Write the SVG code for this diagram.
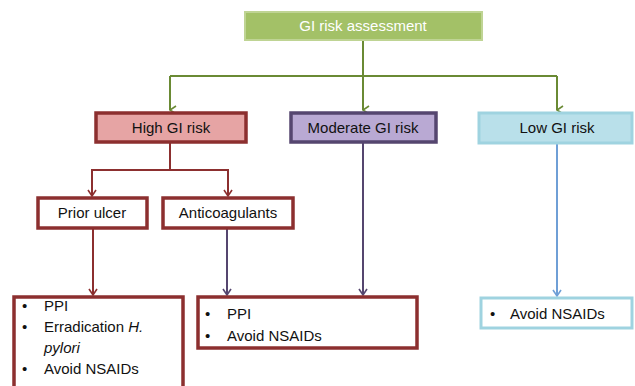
<svg xmlns="http://www.w3.org/2000/svg" width="635" height="386" viewBox="0 0 635 386">
<defs>
<marker id="ag" markerWidth="10" markerHeight="10" refX="5" refY="9" orient="auto-start-reverse" markerUnits="userSpaceOnUse" viewBox="0 0 10 10"><path d="M1,3 L5,9 L9,3" fill="none" stroke="#6a8a34" stroke-width="1.6"/></marker>
<marker id="ar" markerWidth="10" markerHeight="10" refX="5" refY="9" markerUnits="userSpaceOnUse" viewBox="0 0 10 10"><path d="M1,3 L5,9 L9,3" fill="none" stroke="#8c2f2f" stroke-width="1.6"/></marker>
<marker id="ap" markerWidth="10" markerHeight="10" refX="5" refY="9" markerUnits="userSpaceOnUse" viewBox="0 0 10 10"><path d="M1,3 L5,9 L9,3" fill="none" stroke="#55466f" stroke-width="1.6"/></marker>
<marker id="ab" markerWidth="10" markerHeight="10" refX="5" refY="9" markerUnits="userSpaceOnUse" viewBox="0 0 10 10"><path d="M1,3 L5,9 L9,3" fill="none" stroke="#6f9fd6" stroke-width="1.6"/></marker>
</defs>
<style>
text{font-family:"Liberation Sans",Arial,sans-serif;font-size:15px;fill:#111}
.c{text-anchor:middle}
.red{fill:#fff;stroke:#8c2f2f;stroke-width:3.5}
.cg{fill:none;stroke:#6a8a34;stroke-width:2}
.cr{fill:none;stroke:#8c2f2f;stroke-width:2}
.cp{fill:none;stroke:#55466f;stroke-width:2}
.cb{fill:none;stroke:#6f9fd6;stroke-width:2}
</style>
<rect width="635" height="386" fill="#fff"/>
<g id="connectors">
<path class="cg" d="M363,40 V110"/>
<path class="cg" d="M170,76 H557"/>
<path class="cg" d="M170,76 V110" marker-end="url(#ag)"/>
<path class="cg" d="M363,76 V110" marker-end="url(#ag)"/>
<path class="cg" d="M557,76 V110" marker-end="url(#ag)"/>
<path class="cr" d="M170,142 V170 H92 V196" marker-end="url(#ar)"/>
<path class="cr" d="M170,170 H228 V196" marker-end="url(#ar)"/>
<path class="cr" d="M93,228 V295" marker-end="url(#ar)"/>
<path class="cp" d="M227,228 V295" marker-end="url(#ap)"/>
<path class="cp" d="M363,142 V295" marker-end="url(#ap)"/>
<path class="cb" d="M557,143 V296" marker-end="url(#ab)"/>
</g>
<g id="gi-risk-assessment">
<rect x="245" y="12" width="237" height="28" fill="#a3c167" stroke="#bfd494" stroke-width="2"/>
<text class="c" x="363" y="31" style="fill:#fff">GI risk assessment</text>
</g>
<g id="high-gi-risk">
<rect x="96" y="113" width="150" height="29" fill="#e6a4a4" stroke="#8c2f2f" stroke-width="3.5"/>
<text class="c" x="171" y="133">High GI risk</text>
</g>
<g id="moderate-gi-risk">
<rect x="291" y="113" width="145" height="29" fill="#b9a9d3" stroke="#55466f" stroke-width="3.5"/>
<text class="c" x="363" y="133">Moderate GI risk</text>
</g>
<g id="low-gi-risk">
<rect x="479" y="113" width="153" height="30" fill="#b9e0ea" stroke="#9fd3e0" stroke-width="3"/>
<text class="c" x="557" y="133">Low GI risk</text>
</g>
<g id="prior-ulcer">
<rect class="red" x="38" y="198" width="109" height="30"/>
<text class="c" x="92" y="218">Prior ulcer</text>
</g>
<g id="anticoagulants">
<rect class="red" x="163" y="198" width="130" height="30"/>
<text class="c" x="228" y="218">Anticoagulants</text>
</g>
<g id="high-actions">
<rect class="red" x="14" y="297" width="169" height="100"/>
<text x="22" y="311">•</text><text x="44" y="311">PPI</text>
<text x="22" y="332">•</text><text x="44" y="332">Erradication <tspan font-style="italic">H.</tspan></text>
<text x="44" y="353" font-style="italic">pylori</text>
<text x="22" y="374">•</text><text x="44" y="374">Avoid NSAIDs</text>
</g>
<g id="moderate-actions">
<rect class="red" x="198" y="297" width="219" height="51"/>
<text x="205" y="319">•</text><text x="227" y="319">PPI</text>
<text x="205" y="341">•</text><text x="227" y="341">Avoid NSAIDs</text>
</g>
<g id="low-actions">
<rect x="481" y="298" width="151" height="30" fill="#fff" stroke="#9fd3e0" stroke-width="3"/>
<text x="490" y="319">•</text><text x="510" y="319">Avoid NSAIDs</text>
</g>
</svg>
